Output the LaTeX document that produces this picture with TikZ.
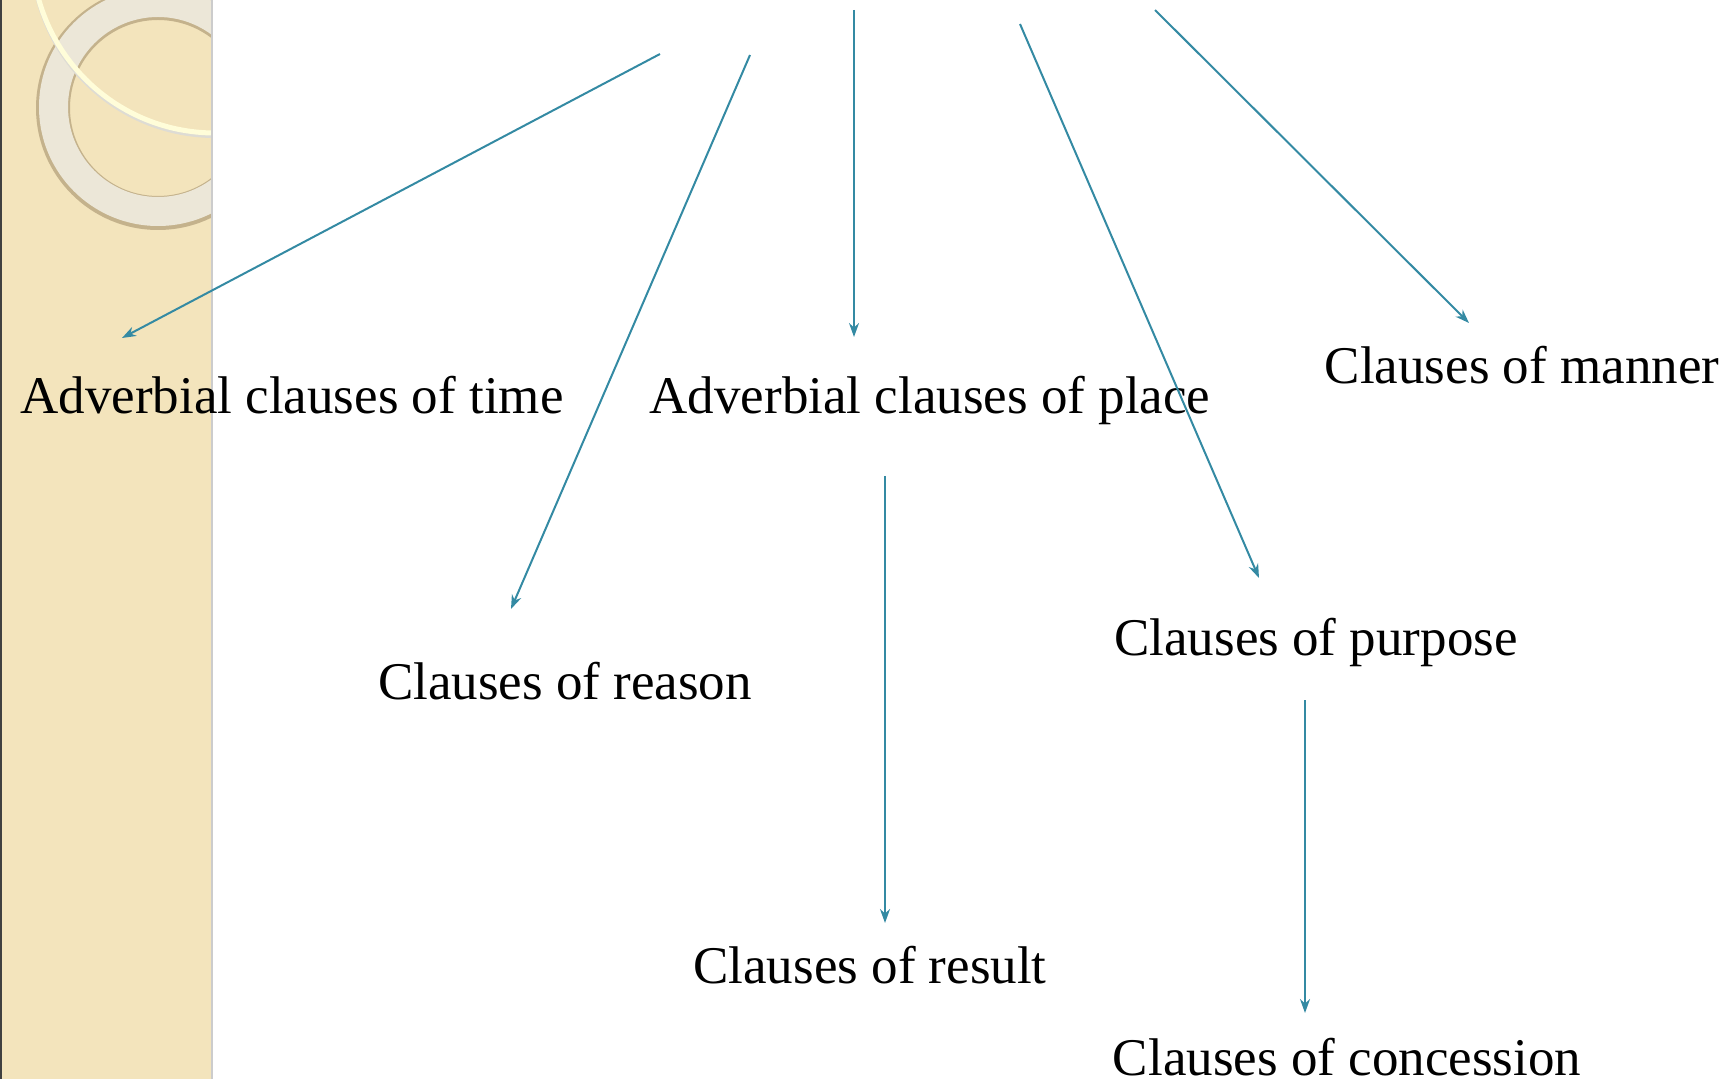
\documentclass[tikz,border=0pt]{standalone}
\usepackage{fontspec}
\setmainfont{Liberation Serif}
\usetikzlibrary{arrows.meta}
\definecolor{strip}{RGB}{243,228,188}
\definecolor{ring}{RGB}{236,231,216}
\definecolor{ringedge}{RGB}{196,178,140}
\definecolor{arrowc}{RGB}{52,138,163}

\begin{document}
\begin{tikzpicture}[x=0.5pt,y=-0.5pt,
        lbl/.style={font=\fontsize{26.5}{32}\selectfont, inner sep=0pt, anchor=base},
        arr/.style={arrowc, line width=1pt, -{Stealth[length=7pt,width=5pt]}}]
        \useasboundingbox (0,0) rectangle (1734,1079);
        % side strip with rings
        \fill[strip] (0,0) rectangle (212,1079);
        \begin{scope}
            \clip (0,0) rectangle (212,1079);
            \fill[ringedge, even odd rule] (158,108) circle (122) (158,108) circle (88);
            \fill[ring, even odd rule] (158,107) circle (119) (158,107) circle (90);
            \draw[strip!60!black!30, line width=2pt] (215,-47) circle (183);
            \draw[white!85!yellow, line width=2.5pt] (215,-50) circle (183);
        \end{scope}
        \fill[black!75] (0,0) rectangle (2,1079);
        \draw[black!20, line width=1pt] (212,0) -- (212,1079);

        % labels
        \node[lbl] (time) at (292,414) {Adverbial clauses of time};
        \node[lbl] (place) at (930,414) {Adverbial clauses of place};
        \node[lbl] (manner) at (1522,384) {Clauses of manner};
        \node[lbl] (reason) at (565,699) {Clauses of reason};
        \node[lbl] (purpose) at (1316,655) {Clauses of purpose};
        \node[lbl] (result) at (870,983) {Clauses of result};
        \node[lbl] (concession) at (1347,1075) {Clauses of concession};

        % arrows
        \foreach \n/\sx/\sy/\ex/\ey in {t/660/54/122/338, r/750/55/511/609,
            p/854/10/854/337, u/1020/24/1259/578, m/1155/10/1469/323,
            s/885/476/885/923, c/1305/700/1305/1013}
        {
            \coordinate (\n-from) at (\sx,\sy);
            \coordinate (\n-end) at (\ex,\ey);
            \draw[arr] (\n-from) -- (\n-end);
        }
    \end{tikzpicture}
\end{document}
